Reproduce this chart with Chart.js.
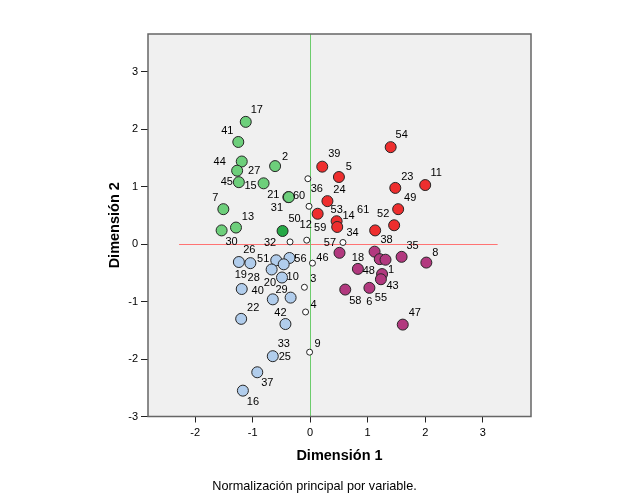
<!DOCTYPE html>
<html>
<head>
<meta charset="utf-8">
<script src="https://cdn.jsdelivr.net/npm/chart.js@4.4.1/dist/chart.umd.min.js"></script>
<style>
  html, body { margin: 0; padding: 0; background: #fff; }
  canvas { display: block; }
</style>
</head>
<body>
<canvas id="chart" width="629" height="504"></canvas>
<script>
// tick labels
const xTicks = [-2, -1, 0, 1, 2, 3];
const yTicks = [-3, -2, -1, 0, 1, 2, 3];

// object scores per group
const greenIds = [17, 41, 44, 27, 45, 15, 2, 21, 31, 7, 13, 30];
const greenX = [-1.12, -1.25, -1.19, -1.27, -1.24, -0.81, -0.61, -0.38, -0.37, -1.51, -1.29, -1.54];
const greenY = [2.13, 1.78, 1.44, 1.28, 1.08, 1.06, 1.36, 0.82, 0.82, 0.61, 0.29, 0.24];

const darkGreenIds = [50];
const darkGreenX = [-0.48];
const darkGreenY = [0.23];

const openIds = [36, 60, 32, 12, 57, 46, 3, 4, 9];
const openX = [-0.04, -0.02, -0.35, -0.06, 0.57, 0.04, -0.10, -0.08, -0.01];
const openY = [1.14, 0.66, 0.04, 0.07, 0.03, -0.33, -0.75, -1.18, -1.88];

const redIds = [54, 39, 5, 23, 11, 24, 49, 53, 14, 59, 61, 52];
const redX = [1.40, 0.21, 0.50, 1.48, 2.00, 0.30, 1.53, 0.13, 0.46, 0.47, 1.13, 1.46];
const redY = [1.69, 1.35, 1.17, 0.98, 1.03, 0.75, 0.61, 0.53, 0.40, 0.30, 0.24, 0.33];

const purpleIds = [34, 38, 48, 43, 35, 18, 1, 55, 58, 6, 8, 47];
const purpleX = [0.51, 1.12, 1.21, 1.31, 1.59, 0.83, 1.25, 1.23, 0.61, 1.03, 2.02, 1.61];
const purpleY = [-0.15, -0.13, -0.26, -0.27, -0.22, -0.43, -0.52, -0.61, -0.79, -0.76, -0.32, -1.40];

const blueIds = [19, 26, 51, 56, 10, 28, 20, 40, 33, 29, 22, 42, 25, 37, 16];
const blueX = [-1.24, -1.04, -0.59, -0.36, -0.46, -0.67, -0.49, -1.19, -0.65, -0.34, -1.20, -0.43, -0.65, -0.92, -1.17];
const blueY = [-0.31, -0.33, -0.28, -0.24, -0.35, -0.44, -0.58, -0.78, -0.96, -0.93, -1.30, -1.39, -1.95, -2.23, -2.55];

// reference lines
const hLineX = [-2.28, 3.26];

// where each label sits relative to its point, in pixels
const labelOffsets = {
  17: [11, -12], 41: [-11, -11], 44: [-22, 0], 27: [17, 0], 45: [-12, 0], 15: [-13, 3],
  2: [10, -9], 21: [-15, -2], 31: [-12, 11], 7: [-8, -11], 13: [12, -11], 30: [10, 12],
  50: [12, -12], 36: [9, 10], 60: [-10, -10], 32: [-20, 1], 12: [-1, -15], 57: [-13, 0],
  46: [10, -5], 3: [9, -8], 4: [8, -7], 9: [8, -8], 54: [11, -12], 39: [12, -13],
  5: [10, -10], 23: [12, -11], 11: [11, -12], 24: [12, -11], 49: [12, -11], 53: [19, -4],
  14: [12, -5], 59: [-17, 1], 61: [-12, -20], 52: [-11, -11], 34: [13, -20], 38: [12, -12],
  48: [-11, 12], 43: [7, 26], 35: [11, -11], 18: [0, -11], 1: [9, -4], 55: [0, 19],
  58: [10, 11], 6: [0, 14], 8: [9, -10], 47: [12, -12], 19: [2, 13], 26: [-1, -13],
  51: [-13, -1], 56: [11, 1], 10: [9, 13], 28: [-18, 8], 20: [-12, 5], 40: [16, 2],
  33: [11, 45], 29: [-9, -8], 22: [12, -11], 42: [-5, -11], 25: [12, 1], 37: [10, 11],
  16: [10, 11]
};

const FONT = "'Liberation Sans', Arial, sans-serif";

function points(xs, ys, ids) {
  return xs.map((x, i) => ({ x: x, y: ys[i], id: ids[i] }));
}

function group(xs, ys, ids, fill, radius) {
  return {
    data: points(xs, ys, ids),
    backgroundColor: fill,
    borderColor: "#262626",
    borderWidth: 1,
    pointRadius: radius,
    pointHoverRadius: radius
  };
}

// grey plot area with a frame, and the two reference lines
const framePlugin = {
  id: "frame",
  beforeDatasetsDraw(chart) {
    const { ctx, chartArea: a, scales } = chart;
    ctx.save();
    ctx.strokeStyle = "#ff7373";
    ctx.lineWidth = 1;
    const y0 = Math.round(scales.y.getPixelForValue(0)) + 0.5;
    ctx.beginPath();
    ctx.moveTo(scales.x.getPixelForValue(hLineX[0]), y0);
    ctx.lineTo(scales.x.getPixelForValue(hLineX[1]), y0);
    ctx.stroke();
    ctx.strokeStyle = "#6ccc6c";
    const x0 = Math.round(scales.x.getPixelForValue(0)) + 0.5;
    ctx.beginPath();
    ctx.moveTo(x0, a.top);
    ctx.lineTo(x0, a.bottom);
    ctx.stroke();
    ctx.restore();
  },
  beforeDraw(chart) {
    const { ctx, chartArea: a } = chart;
    ctx.save();
    ctx.fillStyle = "#f0f0f0";
    ctx.fillRect(a.left, a.top, a.right - a.left, a.bottom - a.top);
    ctx.restore();
  },
  afterDraw(chart) {
    const { ctx, chartArea: a } = chart;
    ctx.save();
    ctx.strokeStyle = "#666666";
    ctx.lineWidth = 1.5;
    ctx.strokeRect(a.left, a.top, a.right - a.left, a.bottom - a.top);

    ctx.fillStyle = "#000";
    ctx.textAlign = "center";
    ctx.textBaseline = "middle";
    ctx.font = "bold 14.5px " + FONT;
    ctx.fillText("Dimensión 1", (a.left + a.right) / 2, 455.5);
    ctx.save();
    ctx.translate(115, (a.top + a.bottom) / 2);
    ctx.rotate(-Math.PI / 2);
    ctx.fillText("Dimensión 2", 0, 0);
    ctx.restore();
    ctx.font = "12.7px " + FONT;
    ctx.fillText("Normalización principal por variable.", chart.width / 2, 486);
    ctx.restore();
  }
};

// case number next to every point
const labelPlugin = {
  id: "pointLabels",
  afterDatasetsDraw(chart) {
    const ctx = chart.ctx;
    ctx.save();
    ctx.font = "11px " + FONT;
    ctx.fillStyle = "#000";
    ctx.textAlign = "center";
    ctx.textBaseline = "middle";
    chart.data.datasets.forEach((ds, di) => {
      chart.getDatasetMeta(di).data.forEach((el, i) => {
        const id = ds.data[i].id;
        const off = labelOffsets[id] || [11, -11];
        ctx.fillText(String(id), el.x + off[0], el.y + off[1]);
      });
    });
    ctx.restore();
  }
};

new Chart(document.getElementById("chart").getContext("2d"), {
  type: "scatter",
  data: {
    datasets: [
      group(greenX, greenY, greenIds, "#6dcf7b", 5.5),
      group(darkGreenX, darkGreenY, darkGreenIds, "#25a846", 5.5),
      group(redX, redY, redIds, "#ee2e2e", 5.5),
      group(purpleX, purpleY, purpleIds, "#b2397f", 5.5),
      group(blueX, blueY, blueIds, "#b1cdec", 5.5),
      group(openX, openY, openIds, "#ffffff", 3)
    ]
  },
  options: {
    responsive: false,
    animation: false,
    events: [],
    layout: { padding: { top: 34, right: 98, left: 0, bottom: 0 } },
    plugins: {
      legend: { display: false },
      tooltip: { enabled: false }
    },
    scales: {
      x: {
        type: "linear",
        min: -2.82,
        max: 3.84,
        afterBuildTicks: (s) => { s.ticks = xTicks.map(v => ({ value: v })); },
        afterFit: (s) => { s.height = 87.5; },
        grid: { drawOnChartArea: false, drawTicks: true, tickLength: 6, color: "#222" },
        border: { display: false },
        ticks: { color: "#000", font: { family: FONT, size: 11 }, padding: 4, maxRotation: 0 }
      },
      y: {
        type: "linear",
        min: -3,
        max: 3.66,
        afterBuildTicks: (s) => { s.ticks = yTicks.map(v => ({ value: v })); },
        afterFit: (s) => { s.width = 148; },
        grid: { drawOnChartArea: false, drawTicks: true, tickLength: 7, color: "#222" },
        border: { display: false },
        ticks: { color: "#000", font: { family: FONT, size: 11 }, padding: 3 }
      }
    }
  },
  plugins: [framePlugin, labelPlugin]
});
</script>
</body>
</html>
